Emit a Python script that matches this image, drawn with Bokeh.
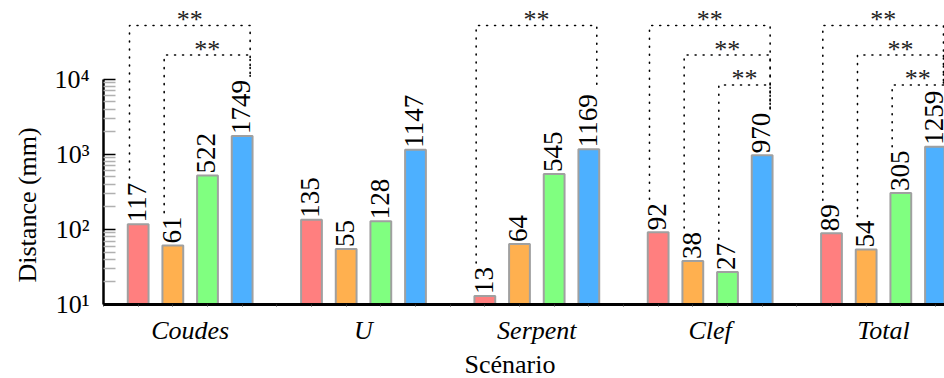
import math
from bokeh.plotting import figure
from bokeh.models import Range1d, FixedTicker, Title, ColumnDataSource
from bokeh.core.properties import value
from bokeh.embed import file_html
from bokeh.resources import INLINE

# ---------------- data ----------------
groups = ["Coudes", "U", "Serpent", "Clef", "Total"]
red_vals = [117, 135, 13, 92, 89]
orange_vals = [61, 55, 64, 38, 54]
green_vals = [522, 128, 545, 27, 305]
blue_vals = [1749, 1147, 1169, 970, 1259]
y_ticks = [10, 100, 1000, 10000]
y_tick_labels = ["10¹", "10²", "10³", "10⁴"]
# significance brackets: group, first bar, second bar, text
sig_group = [0, 0, 2, 3, 3, 3, 4, 4, 4]
sig_from = [0, 1, 0, 0, 1, 2, 0, 1, 2]
sig_to = [3, 3, 3, 3, 3, 3, 3, 3, 3]
sig_text = ["**", "**", "**", "**", "**", "**", "**", "**", "**"]
x_title = "Scénario"
y_title = "Distance (mm)"

# ---------------- style ----------------
FONT = "Liberation Serif"
TITLE_FONT = "'Liberation Serif', serif"
COLORS = ["#FF7F7F", "#FFB04F", "#80FF80", "#4DB0FF"]
EDGE = "#A0A0A0"
LEVEL_Y = [52000, 21000, 8400]
PX_PER_DEC = 75.33

series = [red_vals, orange_vals, green_vals, blue_vals]
n_per = len(series) + 1

p = figure(width=944, height=378, output_backend="svg", toolbar_location=None,
           y_axis_type="log",
           x_range=Range1d(0, 24.26), y_range=Range1d(10, 10 ** (4 + 79 / PX_PER_DEC)),
           min_border_left=103, min_border_right=0, min_border_top=0,
           min_border_bottom=73)
p.outline_line_color = None
p.grid.visible = False
p.background_fill_color = "white"
p.border_fill_color = "white"

def slot(g, i):
    return g * n_per + i + 1

# bars
for i, vals in enumerate(series):
    xs = [slot(g, i) for g in range(len(groups))]
    src = ColumnDataSource(dict(x=xs, top=vals, txt=[str(v) for v in vals]))
    p.vbar(x="x", top="top", bottom=10, width=0.6, source=src,
           fill_color=COLORS[i], line_color=EDGE, line_width=2)
    p.text(x="x", y="top", text="txt", source=src, angle=math.pi / 2,
           text_align="left", text_baseline="middle", y_offset=-2, x_offset=-1,
           text_font=value(FONT), text_font_size="27px", text_color="black")

# significance brackets
def leg_bottom(v):
    return v * 10 ** ((len(str(v)) * 13.5 + 6) / PX_PER_DEC)

bxs, bys, tx, ty, tt = [], [], [], [], []
for g, a, b, s in zip(sig_group, sig_from, sig_to, sig_text):
    va = series[a][g]
    vb = series[b][g]
    xl = slot(g, a) - 0.25
    xr = slot(g, b) + 0.23
    top = LEVEL_Y[a]
    bxs.append([xl, xl, xr, xr])
    bys.append([leg_bottom(va), top, top, leg_bottom(vb)])
    tx.append((xl + xr) / 2)
    ty.append(top)
    tt.append(s)
p.multi_line(xs=bxs, ys=bys, line_color="black", line_width=1.6,
             line_dash="1 7", line_cap="round")
p.text(x=tx, y=ty, text=tt, text_align="center", text_baseline="middle",
       y_offset=-6, text_font=value(FONT), text_font_size="26px", text_color="#222222")

# y axis
minor = [k * 10 ** e for e in range(1, 4) for k in range(2, 10)]
yax = p.yaxis[0]
yax.ticker = FixedTicker(ticks=y_ticks, minor_ticks=minor)
yax.bounds = (y_ticks[0], y_ticks[-1])
yax.major_label_overrides = {t: l for t, l in zip(y_ticks, y_tick_labels)}
yax.axis_line_width = 2.5
yax.axis_line_color = "black"
yax.major_tick_in = 12
yax.major_tick_out = 0
yax.major_tick_line_color = "black"
yax.major_tick_line_width = 1.5
yax.minor_tick_in = 12
yax.minor_tick_out = 0
yax.minor_tick_line_color = "#B0B0B0"
yax.minor_tick_line_width = 1.5
yax.major_label_text_font = FONT
yax.major_label_text_font_size = "26px"
yax.major_label_text_color = "black"
yax.major_label_standoff = 14

# x axis
centers = [g * n_per + 2.5 for g in range(len(groups))]
xax = p.xaxis[0]
xax.ticker = FixedTicker(ticks=centers, minor_ticks=list(range(0, n_per * len(groups))))
xax.major_label_overrides = {c: n for c, n in zip(centers, groups)}
xax.axis_line_width = 3
xax.axis_line_color = "black"
xax.major_tick_in = 0
xax.major_tick_out = 0
xax.minor_tick_in = 0
xax.minor_tick_out = 2
xax.minor_tick_line_color = "#333333"
xax.major_label_text_font = FONT
xax.major_label_text_font_style = "italic"
xax.major_label_text_font_size = "26px"
xax.major_label_text_color = "black"
xax.major_label_standoff = 9

# axis titles
p.add_layout(Title(text=x_title, align="left", offset=361, standoff=0,
                   text_font=TITLE_FONT, text_font_size="26px", text_font_style="normal",
                   text_color="black"), "below")
p.add_layout(Title(text=y_title, align="left", offset=22, standoff=20,
                   text_font=TITLE_FONT, text_font_size="26px", text_font_style="normal",
                   text_color="black"), "left")

open("out.html", "w").write(file_html(p, INLINE))
